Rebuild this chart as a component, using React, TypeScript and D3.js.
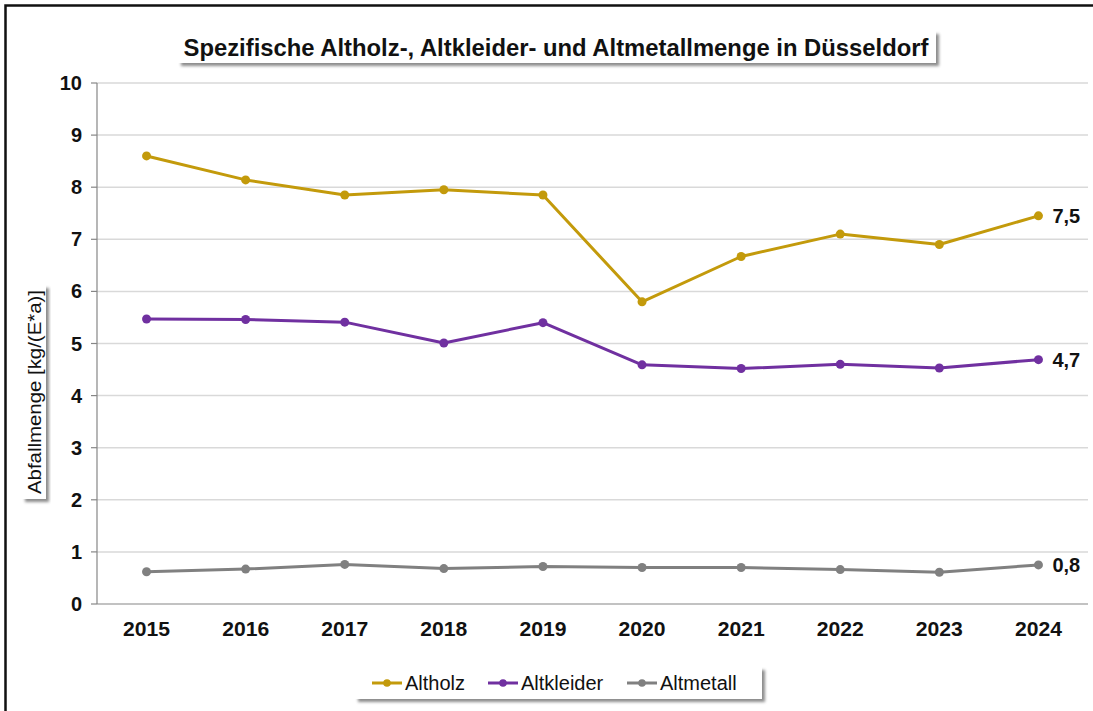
import React from "react";
import * as d3 from "d3";

const years = ["2015", "2016", "2017", "2018", "2019", "2020", "2021", "2022", "2023", "2024"];
const altholz = [8.6, 8.14, 7.85, 7.95, 7.85, 5.8, 6.67, 7.1, 6.9, 7.45];
const altkleider = [5.47, 5.46, 5.41, 5.01, 5.4, 4.59, 4.52, 4.6, 4.53, 4.69];
const altmetall = [0.62, 0.67, 0.76, 0.68, 0.72, 0.7, 0.7, 0.66, 0.61, 0.75];
const yTicks = [0, 1, 2, 3, 4, 5, 6, 7, 8, 9, 10];
const lastLabels = ["7,5", "4,7", "0,8"];

const seriesNames = ["Altholz", "Altkleider", "Altmetall"];
const seriesColors = ["#C39A0B", "#7030A0", "#808080"];
const seriesData = [altholz, altkleider, altmetall];

export default function App() {
  const W = 1093, H = 711;
  const left = 97, right = 1088, top = 83, bottom = 604;
  const x = d3.scaleBand().domain(years).range([left, right]);
  const y = d3.scaleLinear().domain([0, 10]).range([bottom, top]);
  const line = d3
    .line<number>()
    .x((_, i) => (x(years[i]) as number) + x.bandwidth() / 2)
    .y((d) => y(d));
  const font = "'Liberation Sans', Arial, sans-serif";

  return (
    <svg width={W} height={H} style={{ position: "absolute", left: 0, top: 0 }} fontFamily={font}>
      <defs>
        <filter id="sh" x="-10%" y="-30%" width="130%" height="180%">
          <feDropShadow dx="3" dy="3" stdDeviation="1.5" floodColor="#000" floodOpacity="0.45" />
        </filter>
      </defs>
      <rect x={0} y={0} width={W} height={H} fill="#fff" />
      <rect x={5.5} y={5.5} width={W + 10} height={H + 10} fill="none" stroke="#111" strokeWidth={2.5} />

      {/* gridlines */}
      {yTicks.map((t) =>
        t === 0 ? null : (
          <line key={t} x1={left} x2={right} y1={y(t)} y2={y(t)} stroke="#d9d9d9" strokeWidth={1.5} />
        )
      )}
      {/* axes */}
      <line x1={left} x2={left} y1={top} y2={bottom} stroke="#868686" strokeWidth={1.2} />
      <line x1={left} x2={right} y1={bottom} y2={bottom} stroke="#868686" strokeWidth={1.2} />
      {yTicks.map((t) => (
        <g key={"yt" + t}>
          <line x1={left - 6} x2={left} y1={y(t)} y2={y(t)} stroke="#868686" strokeWidth={1.2} />
          <text x={82} y={y(t) + 7} textAnchor="end" fontSize={20} fontWeight="bold" fill="#111">
            {t}
          </text>
        </g>
      ))}
      {years.map((yr) => (
        <text
          key={yr}
          x={(x(yr) as number) + x.bandwidth() / 2}
          y={636}
          textAnchor="middle"
          fontSize={20}
          fontWeight="bold"
          fill="#111"
          textLength={47}
          lengthAdjust="spacingAndGlyphs"
        >
          {yr}
        </text>
      ))}

      {/* series */}
      {seriesData.map((data, si) => (
        <g key={seriesNames[si]}>
          <path d={line(data) as string} fill="none" stroke={seriesColors[si]} strokeWidth={3} strokeLinejoin="round" />
          {data.map((v, i) => (
            <circle
              key={i}
              cx={(x(years[i]) as number) + x.bandwidth() / 2}
              cy={y(v)}
              r={4.5}
              fill={seriesColors[si]}
            />
          ))}
          <text
            x={(x(years[years.length - 1]) as number) + x.bandwidth() / 2 + 14}
            y={y(data[data.length - 1]) + 7}
            fontSize={20}
            fontWeight="bold"
            fill="#111"
          >
            {lastLabels[si]}
          </text>
        </g>
      ))}

      {/* title */}
      <rect x={178} y={31} width={758} height={32} fill="#fff" filter="url(#sh)" />
      <text x={556} y={56} textAnchor="middle" fontSize={23} fontWeight="bold" fill="#111" textLength={745} lengthAdjust="spacingAndGlyphs">
        Spezifische Altholz-, Altkleider- und Altmetallmenge in Düsseldorf
      </text>

      {/* y axis title */}
      <rect x={22} y={285} width={24} height={214} fill="#fff" filter="url(#sh)" />
      <text
        transform={`translate(41, 392) rotate(-90)`}
        textAnchor="middle"
        fontSize={18}
        fill="#111"
        textLength={204}
        lengthAdjust="spacingAndGlyphs"
      >
        Abfallmenge [kg/(E*a)]
      </text>

      {/* legend */}
      <rect x={355} y={667} width={407} height={32} fill="#fff" filter="url(#sh)" />
      {seriesNames.map((n, i) => {
        const lx = [372, 488, 627][i];
        return (
          <g key={n}>
            <line x1={lx} x2={lx + 30} y1={683} y2={683} stroke={seriesColors[i]} strokeWidth={3} />
            <circle cx={lx + 15} cy={683} r={3.8} fill={seriesColors[i]} />
            <text x={lx + 33} y={690} fontSize={20} fill="#111">
              {n}
            </text>
          </g>
        );
      })}
    </svg>
  );
}
